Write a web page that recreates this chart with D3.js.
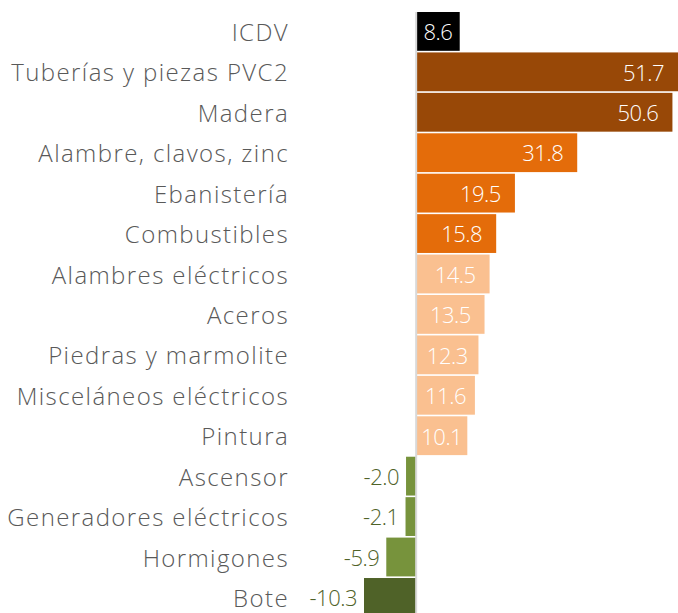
<!DOCTYPE html>
<html>
<head>
<meta charset="utf-8">
<script src="https://cdn.jsdelivr.net/npm/d3@7"></script>
<style>
  html, body { margin: 0; padding: 0; background: #fff; }
  svg { display: block; }
</style>
</head>
<body>
<div id="chart"></div>
<script>
// categorías y valores (variación %)
var categories = ["ICDV", "Tuberías y piezas PVC2", "Madera", "Alambre, clavos, zinc", "Ebanistería",
  "Combustibles", "Alambres eléctricos", "Aceros", "Piedras y marmolite", "Misceláneos eléctricos",
  "Pintura", "Ascensor", "Generadores eléctricos", "Hormigones", "Bote"];
var values = [8.6, 51.7, 50.6, 31.8, 19.5, 15.8, 14.5, 13.5, 12.3, 11.6, 10.1, -2.0, -2.1, -5.9, -10.3];
var colors = ["#000000", "#984807", "#984807", "#e46c0a", "#e46c0a", "#e46c0a", "#fac090", "#fac090",
  "#fac090", "#fac090", "#fac090", "#77933c", "#77933c", "#77933c", "#4f6228"];

var width = 678, height = 613;
var svg = d3.select("#chart").append("svg").attr("width", width).attr("height", height);

var data = categories.map(function(c, i) { return { cat: c, v: values[i], color: colors[i] }; });

var xScale = d3.scaleLinear().domain([-10.3, 51.7]).range([364, 678]);
var step = 40.43, pad = 0.04;
var yScale = d3.scaleBand().domain(categories)
  .range([12, 12 + step * (categories.length - pad)])
  .paddingInner(pad).paddingOuter(0);

var font = "'Open Sans', sans-serif";

// barras
svg.append("g").selectAll("rect")
  .data(data).enter().append("rect")
  .attr("x", function(d) { return xScale(Math.min(0, d.v)); })
  .attr("y", function(d) { return yScale(d.cat); })
  .attr("width", function(d) { return Math.abs(xScale(d.v) - xScale(0)); })
  .attr("height", yScale.bandwidth())
  .attr("fill", function(d) { return d.color; });

// línea del cero
svg.append("line")
  .attr("x1", xScale(0)).attr("x2", xScale(0))
  .attr("y1", 12).attr("y2", height)
  .attr("stroke", "#d9d9d9").attr("stroke-width", 2);

// etiquetas de categoría
svg.append("g").selectAll("text")
  .data(data).enter().append("text")
  .attr("x", 289)
  .attr("y", function(d) { return yScale(d.cat) + yScale.bandwidth() / 2; })
  .attr("dy", "0.4em")
  .attr("text-anchor", "end")
  .attr("font-family", font).attr("font-size", "24px").attr("font-weight", 300)
  .attr("letter-spacing", "1.4px")
  .attr("fill", "#595959")
  .text(function(d) { return d.cat; });

// etiquetas de valor
svg.append("g").selectAll("text")
  .data(data).enter().append("text")
  .attr("y", function(d) { return yScale(d.cat) + yScale.bandwidth() / 2; })
  .attr("dy", "0.4em")
  .attr("text-anchor", "end")
  .attr("font-family", font).attr("font-size", "22px").attr("font-weight", 300)
  .attr("letter-spacing", "-0.5px")
  .attr("fill", function(d) { return d.v < 0 ? "#4f6228" : "#ffffff"; })
  .text(function(d) { return d.v.toFixed(1); })
  .attr("x", function(d) {
    if (d.v < 0) return xScale(d.v) - 7;
    var w = this.getComputedTextLength();
    var x0 = xScale(0), x1 = xScale(d.v);
    return Math.max(x1 - 14, (x0 + x1) / 2 + w / 2);
  });
</script>
</body>
</html>
